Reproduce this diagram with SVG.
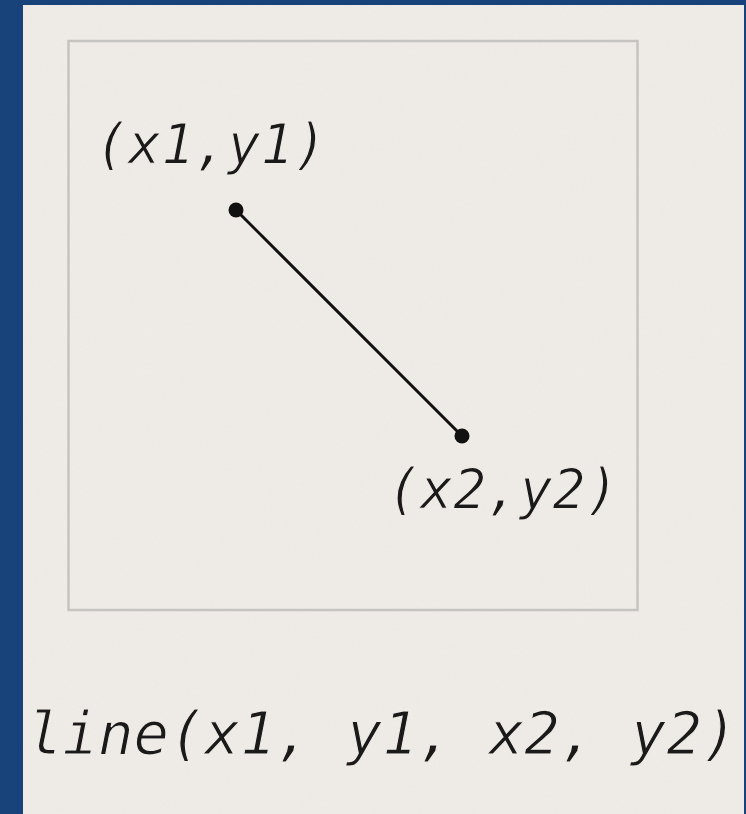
<svg xmlns="http://www.w3.org/2000/svg" width="746" height="814" viewBox="0 0 746 814">
  <style>
    .mono { font-family: "DejaVu Sans Mono", "Liberation Mono", monospace; font-style: italic; fill: #1a1a1a; stroke: #efece7; stroke-width: 1.1px; paint-order: fill; }
    .lbl { font-size: 55px; }
    .code { font-size: 59px; }
  </style>
  <defs>
    <filter id="paper" x="0" y="0" width="100%" height="100%">
      <feTurbulence type="fractalNoise" baseFrequency="0.9 0.35" numOctaves="3" seed="4" result="n"/>
      <feColorMatrix type="matrix" values="0 0 0 0 0.55  0 0 0 0 0.53  0 0 0 0 0.5  0 0 0 0.09 0" />
    </filter>
  </defs>
  <rect x="0" y="0" width="746" height="814" fill="#18427a"/>
  <rect x="23" y="5" width="721" height="809" fill="#f0ede8"/>
  <rect x="23" y="5" width="721" height="809" filter="url(#paper)"/>
  <g id="frame">
    <rect x="68.5" y="41" width="569" height="569" fill="none" stroke="#c6c4c0" stroke-width="2.5"/>
  </g>
  <g id="connectors">
    <line x1="236" y1="210" x2="462" y2="436" stroke="#111" stroke-width="3"/>
  </g>
  <g id="p1">
    <circle cx="236" cy="210" r="7.5" fill="#111"/>
    <text class="mono lbl" x="95" y="163">(x1,y1)</text>
  </g>
  <g id="p2">
    <circle cx="462" cy="436" r="7.5" fill="#111"/>
    <text class="mono lbl" x="387" y="508">(x2,y2)</text>
  </g>
  <g id="caption">
    <text class="mono code" x="27" y="754">line(x1, y1, x2, y2)</text>
  </g>
</svg>
